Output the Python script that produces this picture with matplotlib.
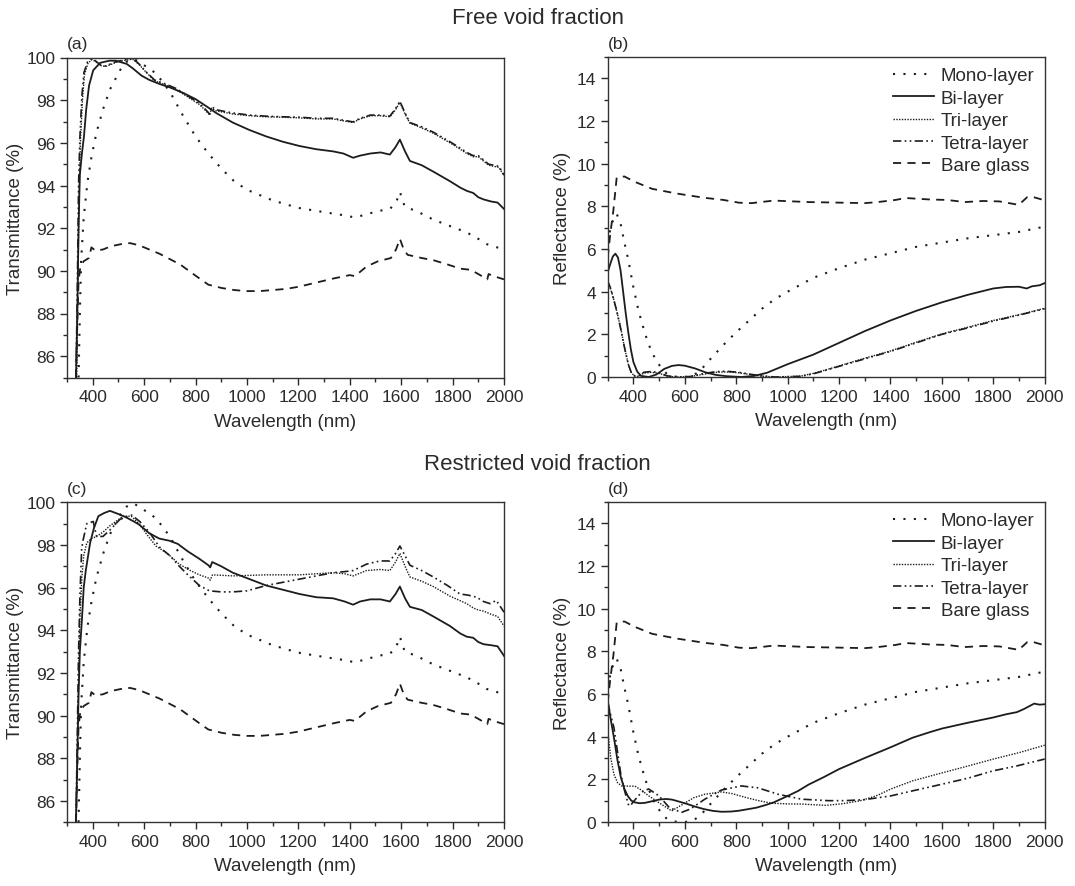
import numpy as np
import matplotlib
matplotlib.use("Agg")
import matplotlib.pyplot as plt
from matplotlib.ticker import MultipleLocator

plt.rcParams["font.family"] = ["Liberation Sans", "DejaVu Sans"]
plt.rcParams["text.color"] = "#2b2b2b"
plt.rcParams["axes.labelcolor"] = "#2b2b2b"
plt.rcParams["xtick.color"] = "#2b2b2b"
plt.rcParams["ytick.color"] = "#2b2b2b"

# ---------------- transmittance, free void fraction (a) ----------------
mono_t_x = [345, 350, 355, 365, 380, 396, 415, 441, 467, 506, 532, 560, 590, 620, 650, 700, 750, 800, 850, 900, 950,
            1000, 1100, 1200, 1300, 1380, 1420, 1465, 1510, 1556, 1580, 1595, 1614, 1660, 1725, 1790, 1855, 1900, 1933, 2000]
mono_t_y = [85, 88, 90.5, 92.5, 94.2, 95.4, 96.5, 97.6, 98.5, 99.4, 99.8, 99.95, 99.7, 99.5, 99.2, 98.4, 97.3, 96.3, 95.5,
            94.8, 94.2, 93.8, 93.3, 92.95, 92.75, 92.6, 92.5, 92.65, 92.8, 92.9, 93.2, 93.7, 93.0, 92.8, 92.4, 92.1, 91.8,
            91.5, 91.25, 91.0]

bi_a_x = [335, 340, 345, 350, 358, 366, 375, 386, 402, 429, 465, 490, 532, 555, 590, 620, 662, 700, 750, 800, 850, 880,
          945, 1010, 1075, 1140, 1205, 1270, 1335, 1375, 1413, 1440, 1480, 1520, 1556, 1578, 1595, 1615, 1634, 1680, 1725,
          1790, 1830, 1855, 1880, 1900, 1920, 1950, 1975, 2000]
bi_a_y = [85, 88, 92, 94.5, 95.5, 96.3, 97.6, 98.7, 99.4, 99.75, 99.85, 99.85, 99.7, 99.5, 99.15, 98.95, 98.75, 98.6,
          98.35, 98.05, 97.65, 97.4, 96.95, 96.6, 96.3, 96.05, 95.85, 95.7, 95.6, 95.5, 95.3, 95.4, 95.5, 95.55, 95.45,
          95.8, 96.15, 95.6, 95.15, 94.95, 94.65, 94.2, 93.9, 93.75, 93.65, 93.45, 93.35, 93.25, 93.2, 92.9]

tetra_a_x = [335, 340, 345, 350, 358, 366, 380, 396, 410, 430, 448, 470, 490, 530, 557, 580, 610, 640, 662, 685, 724, 770,
             815, 840, 855, 862, 880, 945, 1010, 1075, 1140, 1205, 1270, 1335, 1380, 1413, 1440, 1480, 1520, 1556, 1578,
             1595, 1615, 1634, 1680, 1725, 1790, 1830, 1855, 1880, 1900, 1920, 1940, 1960, 1980, 2000]
tetra_a_y = [85, 89, 94, 96.2, 98.2, 99.3, 99.8, 99.95, 99.85, 99.65, 99.6, 99.7, 99.8, 99.9, 99.95, 99.7, 99.3, 98.95,
             98.85, 98.75, 98.55, 98.2, 97.85, 97.55, 97.35, 97.7, 97.55, 97.4, 97.3, 97.25, 97.22, 97.2, 97.15, 97.15,
             97.05, 96.98, 97.15, 97.3, 97.3, 97.25, 97.6, 97.95, 97.4, 96.95, 96.75, 96.5, 96.05, 95.75, 95.55, 95.4,
             95.4, 95.2, 95.0, 94.95, 94.9, 94.5]

tri_a_x = [338, 342, 347, 352, 360, 368, 382, 398, 412, 432, 450, 472, 492, 530, 555, 580, 610, 640, 662, 685, 724, 770,
           815, 840, 855, 862, 880, 945, 1010, 1075, 1140, 1205, 1270, 1335, 1380, 1413, 1440, 1480, 1520, 1556, 1578,
           1595, 1615, 1634, 1680, 1725, 1790, 1830, 1855, 1880, 1900, 1920, 1940, 1960, 1980, 2000]
tri_a_y = [85, 89, 93.5, 96.0, 98.0, 99.2, 99.75, 99.9, 99.8, 99.62, 99.58, 99.68, 99.78, 99.88, 99.92, 99.68, 99.28,
           98.92, 98.8, 98.7, 98.5, 98.15, 97.8, 97.5, 97.3, 97.62, 97.5, 97.35, 97.27, 97.22, 97.2, 97.17, 97.12, 97.12,
           97.02, 96.95, 97.12, 97.27, 97.27, 97.22, 97.55, 97.9, 97.35, 96.92, 96.7, 96.45, 96.0, 95.7, 95.5, 95.35,
           95.35, 95.15, 94.95, 94.9, 94.85, 94.45]

bare_t_x = [335, 340, 345, 352, 365, 385, 395, 410, 440, 470, 510, 545, 580, 620, 660, 700, 740, 780, 820, 850, 900, 950,
            1000, 1050, 1100, 1150, 1200, 1270, 1340, 1400, 1420, 1465, 1510, 1560, 1580, 1595, 1610, 1625, 1680, 1725,
            1780, 1830, 1870, 1900, 1935, 1940, 1960, 2000]
bare_t_y = [85, 87.5, 89.5, 90.2, 90.45, 90.6, 91.1, 90.95, 91.0, 91.15, 91.25, 91.3, 91.2, 91.0, 90.8, 90.55, 90.3,
            89.95, 89.6, 89.35, 89.2, 89.1, 89.05, 89.05, 89.1, 89.15, 89.25, 89.45, 89.65, 89.8, 89.75, 90.2, 90.45,
            90.6, 91.0, 91.5, 91.0, 90.75, 90.6, 90.5, 90.3, 90.1, 90.05, 89.85, 89.6, 89.85, 89.75, 89.6]

# ---------------- transmittance, restricted void fraction (c) ----------------
bi_c_x = [335, 340, 345, 350, 358, 365, 373, 390, 405, 422, 445, 467, 500, 529, 560, 581, 620, 659, 698, 731, 770, 815,
          850, 857, 865, 900, 945, 1010, 1075, 1140, 1205, 1270, 1335, 1380, 1413, 1440, 1480, 1520, 1556, 1578, 1595,
          1615, 1634, 1680, 1725, 1790, 1830, 1855, 1880, 1900, 1920, 1950, 1975, 2000]
bi_c_y = [85, 88, 91, 93, 94.5, 96.0, 96.8, 98.1, 98.8, 99.35, 99.5, 99.6, 99.45, 99.3, 99.1, 98.95, 98.55, 98.3, 98.2,
          98.05, 97.7, 97.35, 97.05, 96.95, 97.2, 97.0, 96.7, 96.4, 96.1, 95.9, 95.7, 95.55, 95.5, 95.35, 95.2, 95.35,
          95.45, 95.45, 95.35, 95.7, 96.05, 95.5, 95.1, 94.95, 94.65, 94.2, 93.85, 93.7, 93.65, 93.45, 93.35, 93.3,
          93.25, 92.8]

tetra_c_x = [335, 340, 345, 350, 357, 362, 377, 402, 415, 440, 467, 506, 552, 583, 620, 660, 700, 737, 770, 815, 854, 900,
             945, 1000, 1075, 1140, 1205, 1270, 1335, 1380, 1413, 1465, 1517, 1556, 1578, 1595, 1615, 1634, 1680, 1725,
             1780, 1829, 1860, 1894, 1920, 1946, 1970, 2000]
tetra_c_y = [85, 89, 93, 95.5, 97.8, 98.2, 99.0, 99.1, 98.4, 98.4, 98.7, 99.2, 99.4, 99.1, 98.6, 97.9, 97.5, 97.0, 96.6,
             96.1, 95.85, 95.8, 95.8, 95.85, 96.1, 96.25, 96.4, 96.55, 96.7, 96.75, 96.8, 97.1, 97.25, 97.25, 97.6,
             97.95, 97.5, 97.05, 96.8, 96.5, 96.1, 95.7, 95.65, 95.55, 95.35, 95.25, 95.4, 94.85]

tri_c_x = [335, 340, 345, 350, 358, 365, 377, 395, 415, 440, 467, 518, 550, 580, 610, 646, 690, 737, 780, 815, 850, 857,
           866, 945, 1075, 1205, 1335, 1380, 1413, 1465, 1520, 1556, 1578, 1595, 1615, 1634, 1680, 1725, 1790, 1855, 1880,
           1900, 1920, 1950, 1975, 2000]
tri_c_y = [85, 88, 91.5, 94.5, 96.5, 97.5, 98.1, 98.3, 98.4, 98.6, 98.9, 99.35, 99.35, 99.0, 98.5, 97.95, 97.6, 97.1,
           96.8, 96.6, 96.45, 96.35, 96.6, 96.55, 96.6, 96.6, 96.7, 96.65, 96.55, 96.8, 96.85, 96.8, 97.2, 97.6, 97.0,
           96.5, 96.3, 96.05, 95.6, 95.25, 95.05, 94.95, 94.9, 94.75, 94.65, 94.2]

# ---------------- reflectance, shared curves (b) and (d) ----------------
mono_r_x = [300, 315, 335, 350, 365, 380, 400, 420, 446, 470, 490, 510, 530, 560, 600, 630, 660, 700, 750, 800, 850, 900,
            950, 1000, 1100, 1200, 1300, 1400, 1500, 1600, 1700, 1800, 1900, 2000]
mono_r_y = [6.3, 7.2, 7.65, 7.2, 6.3, 5.5, 4.2, 3.1, 2.0, 1.2, 0.75, 0.4, 0.15, 0.02, 0.0, 0.05, 0.3, 0.85, 1.5, 2.1,
            2.65, 3.2, 3.65, 4.0, 4.65, 5.1, 5.5, 5.8, 6.1, 6.3, 6.5, 6.65, 6.8, 7.05]

bare_r_x = [300, 310, 322, 335, 365, 405, 473, 568, 676, 750, 811, 860, 946, 1081, 1216, 1300, 1351, 1420, 1459, 1554,
            1620, 1689, 1760, 1824, 1899, 1932, 1960, 2000]
bare_r_y = [5.6, 6.7, 7.8, 9.35, 9.4, 9.15, 8.82, 8.6, 8.4, 8.3, 8.17, 8.15, 8.27, 8.2, 8.17, 8.15, 8.2, 8.3, 8.39, 8.32,
            8.3, 8.2, 8.25, 8.23, 8.07, 8.43, 8.42, 8.28]

# ---------------- reflectance, free void fraction (b) ----------------
bi_b_x = [300, 310, 320, 330, 340, 350, 360, 370, 380, 390, 400, 415, 430, 460, 490, 520, 550, 575, 600, 640, 680, 720,
          760, 820, 870, 920, 960, 1000, 1100, 1200, 1300, 1400, 1500, 1600, 1700, 1800, 1850, 1900, 1930, 1950, 1980,
          2000]
bi_b_y = [4.9, 5.3, 5.65, 5.78, 5.6, 5.0, 4.0, 3.0, 2.1, 1.3, 0.7, 0.25, 0.05, 0.0, 0.12, 0.38, 0.52, 0.56, 0.53, 0.4,
          0.22, 0.1, 0.04, 0.0, 0.05, 0.2, 0.4, 0.6, 1.05, 1.6, 2.15, 2.65, 3.1, 3.5, 3.85, 4.15, 4.22, 4.23, 4.15,
          4.25, 4.3, 4.4]

tetra_b_x = [300, 310, 320, 335, 350, 365, 380, 392, 405, 420, 440, 470, 500, 530, 560, 620, 670, 720, 760, 810, 860,
             900, 950, 1050, 1100, 1150, 1200, 1300, 1400, 1500, 1600, 1700, 1800, 1900, 2000]
tetra_b_y = [4.5, 4.2, 3.8, 3.1, 2.3, 1.4, 0.6, 0.2, 0.05, 0.05, 0.22, 0.26, 0.2, 0.06, 0.0, 0.02, 0.15, 0.25, 0.27,
             0.22, 0.12, 0.05, 0.0, 0.03, 0.15, 0.32, 0.5, 0.85, 1.2, 1.6, 2.0, 2.3, 2.62, 2.9, 3.2]

tri_b_x = [300, 312, 322, 337, 352, 366, 381, 393, 406, 420, 440, 470, 500, 530, 560, 620, 670, 720, 760, 810, 860,
           900, 950, 1050, 1100, 1150, 1200, 1300, 1400, 1500, 1600, 1700, 1800, 1900, 2000]
tri_b_y = [4.4, 4.1, 3.7, 3.0, 2.2, 1.35, 0.55, 0.18, 0.04, 0.03, 0.18, 0.22, 0.17, 0.05, 0.0, 0.02, 0.12, 0.22, 0.24,
           0.2, 0.1, 0.04, 0.0, 0.04, 0.17, 0.34, 0.52, 0.88, 1.22, 1.63, 2.02, 2.33, 2.65, 2.92, 3.22]

# ---------------- reflectance, restricted void fraction (d) ----------------
bi_d_x = [300, 312, 324, 338, 351, 365, 378, 392, 405, 425, 446, 475, 500, 527, 550, 568, 608, 640, 676, 710, 743, 780,
          811, 845, 878, 910, 946, 1000, 1040, 1081, 1140, 1200, 1300, 1400, 1486, 1550, 1600, 1700, 1800, 1850, 1892,
          1920, 1959, 1980, 2000]
bi_d_y = [5.7, 4.8, 3.97, 2.9, 2.1, 1.55, 1.22, 1.0, 0.92, 0.88, 0.9, 0.98, 1.05, 1.08, 1.05, 0.99, 0.85, 0.72, 0.6,
          0.52, 0.48, 0.49, 0.53, 0.6, 0.67, 0.78, 0.92, 1.22, 1.45, 1.75, 2.1, 2.48, 3.0, 3.5, 3.95, 4.2, 4.38, 4.65,
          4.9, 5.05, 5.15, 5.3, 5.55, 5.5, 5.52]

tri_d_x = [300, 312, 324, 338, 354, 380, 406, 430, 458, 500, 549, 581, 635, 678, 743, 784, 834, 880, 937, 1000, 1054,
           1149, 1216, 1284, 1350, 1400, 1486, 1600, 1700, 1800, 1900, 2000]
tri_d_y = [4.3, 3.0, 2.24, 1.85, 1.69, 1.68, 1.68, 1.5, 1.24, 0.9, 0.52, 0.75, 1.14, 1.3, 1.41, 1.33, 1.16, 1.02, 0.88,
           0.85, 0.84, 0.78, 0.86, 1.0, 1.25, 1.54, 1.93, 2.3, 2.62, 2.95, 3.25, 3.6]

tetra_d_x = [300, 312, 324, 338, 351, 365, 380, 387, 400, 432, 459, 500, 540, 587, 620, 678, 743, 820, 885, 963, 1054,
             1158, 1223, 1300, 1400, 1486, 1600, 1700, 1800, 1892, 2000]
tetra_d_y = [5.6, 5.0, 4.44, 3.3, 2.24, 1.5, 0.83, 0.75, 0.95, 1.4, 1.55, 1.22, 0.67, 0.45, 0.6, 1.07, 1.5, 1.69, 1.6,
             1.3, 1.07, 1.0, 1.0, 1.05, 1.22, 1.46, 1.77, 2.05, 2.4, 2.63, 2.95]

labels = ["Mono-layer", "Bi-layer", "Tri-layer", "Tetra-layer", "Bare glass"]

lc = "#1c1c1c"
styles = {
    "Mono-layer": dict(ls=(0, (1, 4)), lw=1.5),
    "Bi-layer": dict(ls="-", lw=1.3),
    "Tri-layer": dict(ls=(0, (1, 1)), lw=1.0),
    "Tetra-layer": dict(ls=(0, (5, 2, 1, 2, 1, 2)), lw=1.2),
    "Bare glass": dict(ls=(0, (4.5, 3.5)), lw=1.3),
}

fig = plt.figure(figsize=(10.75, 8.87), dpi=100)

W = 437 / 1075
H = 320 / 887
axa = fig.add_axes([67 / 1075, 1 - 378.5 / 887, W, H])
axb = fig.add_axes([607.7 / 1075, 1 - 378 / 887, W, H])
axc = fig.add_axes([67 / 1075, 1 - 823.3 / 887, W, H])
axd = fig.add_axes([607.7 / 1075, 1 - 823 / 887, W, H])

series = {
    axa: [(mono_t_x, mono_t_y), (bi_a_x, bi_a_y), (tri_a_x, tri_a_y), (tetra_a_x, tetra_a_y), (bare_t_x, bare_t_y)],
    axc: [(mono_t_x, mono_t_y), (bi_c_x, bi_c_y), (tri_c_x, tri_c_y), (tetra_c_x, tetra_c_y), (bare_t_x, bare_t_y)],
    axb: [(mono_r_x, mono_r_y), (bi_b_x, bi_b_y), (tri_b_x, tri_b_y), (tetra_b_x, tetra_b_y), (bare_r_x, bare_r_y)],
    axd: [(mono_r_x, mono_r_y), (bi_d_x, bi_d_y), (tri_d_x, tri_d_y), (tetra_d_x, tetra_d_y), (bare_r_x, bare_r_y)],
}

for ax, data in series.items():
    for lab, (x, y) in zip(labels, data):
        ax.plot(x, y, color=lc, label=lab, **styles[lab])
    ax.set_xlim(300, 2000)
    ax.xaxis.set_major_locator(MultipleLocator(200))
    ax.xaxis.set_minor_locator(MultipleLocator(100))
    ax.set_xlabel("Wavelength (nm)", fontsize=13.5, labelpad=6)
    ax.tick_params(which="both", direction="out", top=False, right=False, labelsize=12.5, width=1.0)
    ax.tick_params(which="major", length=5)
    ax.tick_params(which="minor", length=3)
    for sp in ax.spines.values():
        sp.set_color("#333333")
        sp.set_linewidth(1.0)

for ax in (axa, axc):
    ax.set_ylim(85, 100)
    ax.yaxis.set_major_locator(MultipleLocator(2))
    ax.yaxis.set_minor_locator(MultipleLocator(1))
    ax.set_ylabel("Transmittance (%)", fontsize=13.5, labelpad=1.5)

for ax in (axb, axd):
    ax.set_ylim(0, 15)
    ax.yaxis.set_major_locator(MultipleLocator(2))
    ax.yaxis.set_minor_locator(MultipleLocator(1))
    ax.set_ylabel("Reflectance (%)", fontsize=13.5, labelpad=4)
    ax.legend(loc="upper right", frameon=False, fontsize=13.5, handlelength=2.2, handletextpad=0.35,
              labelspacing=0.28, borderaxespad=0.15)

for ax, tag in zip((axa, axb, axc, axd), ["(a)", "(b)", "(c)", "(d)"]):
    ax.text(0.0, 1.02, tag, transform=ax.transAxes, fontsize=12.5, ha="left", va="bottom")

fig.text(0.5, 1 - 18 / 887, "Free void fraction", ha="center", va="center", fontsize=16)
fig.text(0.5, 1 - 465 / 887, "Restricted void fraction", ha="center", va="center", fontsize=16)

fig.savefig("out.png", dpi=100)
